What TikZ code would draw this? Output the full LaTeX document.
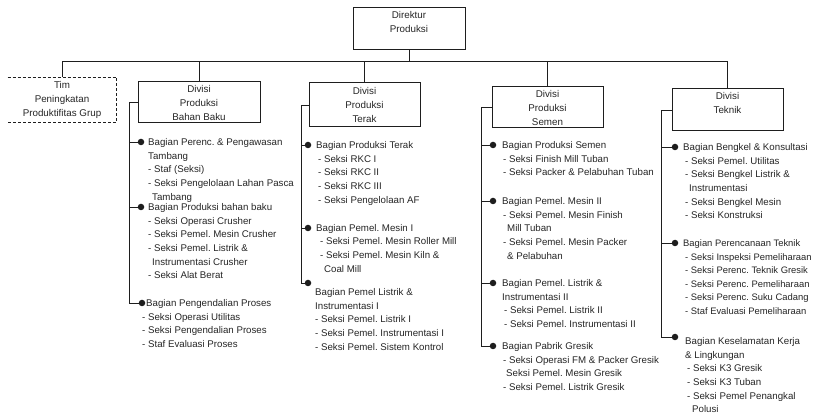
\documentclass[tikz,border=0pt]{standalone}
\usepackage{fontspec}
\setmainfont{Liberation Sans}
\usepackage{tikz}
\usetikzlibrary{positioning, calc}
\definecolor{orgline}{HTML}{1E1E1E}
\definecolor{orgtext}{HTML}{262626}
\frenchspacing

\begin{document}
\begin{tikzpicture}[x=1pt, y=-1pt,
  unitbox/.style={draw=orgline, line width=1pt, align=center, inner sep=0pt,
    font=\fontsize{9.8}{14}\selectfont, text=orgtext},
  dot/.style={circle, fill=orgline, inner sep=0pt, minimum size=6.5pt},
  itemlist/.style={anchor=north west, inner sep=0pt, align=left,
    font=\fontsize{9.7}{13.6}\selectfont, text=orgtext},
  link/.style={draw=orgline, line width=0.9pt}]
\useasboundingbox[fill=white] (0,0) rectangle (815,414);

\node[unitbox, minimum width=112pt, minimum height=42pt] (dir) at (409,29) {Direktur\\Produksi\\\mbox{}};
\node[unitbox, draw=none, minimum width=108pt, minimum height=44pt] (tim) at (62,100) {Tim\\Peningkatan\\Produktifitas Grup};
\draw[orgline, line width=0.9pt, dash pattern=on 3pt off 2pt]
  (tim.north west) -- (tim.north east) -- (tim.south east) -- (tim.south west);
\node[unitbox, minimum width=122pt, minimum height=41pt] (bahan) at (199,102.5) {Divisi\\Produksi\\Bahan Baku};
\node[unitbox, minimum width=111pt, minimum height=44pt] (terak) at (364.5,105) {Divisi\\Produksi\\Terak};
\node[unitbox, minimum width=111pt, minimum height=41pt] (semen) at (547.5,107.5) {Divisi\\Produksi\\Semen};
\node[unitbox, minimum width=111pt, minimum height=42pt] (teknik) at (727.5,110) {Divisi\\Teknik\\\mbox{}};

\coordinate (bus) at (409,61);
\draw[link] (dir.south) -- (bus);
\draw[link] (bus) -| (tim.north);
\draw[link] (bus) -| (bahan.north);
\draw[link] (bus) -| (terak.north);
\draw[link] (bus) -| (semen.north);
\draw[link] (bus) -| (teknik.north);

% Divisi Produksi Bahan Baku
\node[dot] (bb1) at (141,142) {};
\node[dot] (bb2) at (141,207) {};
\node[dot] (bb3) at (142,303) {};
\coordinate (bbspine) at ([xshift=-8pt]bahan.west);
\draw[link] (bahan.west) -- (bbspine) |- (bb3);
\draw[link] (bb1 -| bbspine) -- (bb1);
\draw[link] (bb2 -| bbspine) -- (bb2);
\node[itemlist] (bb1t) at (148,138.5) {Bagian Perenc. \& Pengawasan\\Tambang\\- Staf (Seksi)\\- Seksi Pengelolaan Lahan Pasca\\\hspace*{4pt}Tambang};
\node[itemlist] (bb2t) at (148,203.5) {Bagian Produksi bahan baku\\- Seksi Operasi Crusher\\- Seksi Pemel. Mesin Crusher\\- Seksi Pemel. Listrik \&\\\hspace*{4pt}Instrumentasi Crusher\\- Seksi Alat Berat};
\node[itemlist] (bb3t) at (142,299.5) {\hspace*{4pt}Bagian Pengendalian Proses\\- Seksi Operasi Utilitas\\- Seksi Pengendalian Proses\\- Staf Evaluasi Proses};

% Divisi Produksi Terak
\node[dot] (tb1) at (308,145) {};
\node[dot] (tb2) at (308,228) {};
\node[dot] (tb3) at (308,283) {};
\coordinate (tbspine) at ([xshift=-7pt]terak.west);
\draw[link] (terak.west) -- (tbspine) |- (tb3);
\draw[link] (tb1 -| tbspine) -- (tb1);
\draw[link] (tb2 -| tbspine) -- (tb2);
\node[itemlist] (tb1t) at (316,141.5) {Bagian Produksi Terak\\\hspace*{2pt}- Seksi RKC I\\\hspace*{2pt}- Seksi RKC II\\\hspace*{2pt}- Seksi RKC III\\\hspace*{2pt}- Seksi Pengelolaan AF};
\node[itemlist] (tb2t) at (316,224) {Bagian Pemel. Mesin I\\\hspace*{4pt}- Seksi Pemel. Mesin Roller Mill\\\hspace*{4pt}- Seksi Pemel. Mesin Kiln \&\\\hspace*{8pt}Coal Mill};
\node[itemlist] (tb3t) at (315,288.5) {Bagian Pemel Listrik \&\\Instrumentasi I\\- Seksi Pemel. Listrik I\\- Seksi Pemel. Instrumentasi I\\- Seksi Pemel. Sistem Kontrol};

% Divisi Produksi Semen
\node[dot] (sb1) at (493,145) {};
\node[dot] (sb2) at (493,201) {};
\node[dot] (sb3) at (493,283) {};
\node[dot] (sb4) at (493,346) {};
\coordinate (sbspine) at ([xshift=-10pt]semen.west);
\draw[link] (semen.west) -- (sbspine) |- (sb4);
\draw[link] (sb1 -| sbspine) -- (sb1);
\draw[link] (sb2 -| sbspine) -- (sb2);
\draw[link] (sb3 -| sbspine) -- (sb3);
\node[itemlist] (sb1t) at (502,141.5) {Bagian Produksi Semen\\\hspace*{1pt}- Seksi Finish Mill Tuban\\\hspace*{1pt}- Seksi Packer \& Pelabuhan Tuban};
\node[itemlist] (sb2t) at (502,197.5) {Bagian Pemel. Mesin II\\\hspace*{1pt}- Seksi Pemel. Mesin Finish\\\hspace*{5pt}Mill Tuban\\\hspace*{1pt}- Seksi Pemel. Mesin Packer\\\hspace*{5pt}\& Pelabuhan};
\node[itemlist] (sb3t) at (502,279.5) {Bagian Pemel. Listrik \&\\Instrumentasi II\\\hspace*{2pt}- Seksi Pemel. Listrik II\\\hspace*{2pt}- Seksi Pemel. Instrumentasi II};
\node[itemlist] (sb4t) at (502,342.5) {Bagian Pabrik Gresik\\\hspace*{1pt}- Seksi Operasi FM \& Packer Gresik\\\hspace*{4pt}Seksi Pemel. Mesin Gresik\\\hspace*{1pt}- Seksi Pemel. Listrik Gresik};

% Divisi Teknik
\node[dot] (kb1) at (675,147) {};
\node[dot] (kb2) at (675,243) {};
\node[dot] (kb3) at (675,337) {};
\coordinate (kbspine) at ([xshift=-10pt]teknik.west);
\draw[link] (teknik.west) -- (kbspine) |- (kb3);
\draw[link] (kb1 -| kbspine) -- (kb1);
\draw[link] (kb2 -| kbspine) -- (kb2);
\node[itemlist] (kb1t) at (683,143.5) {Bagian Bengkel \& Konsultasi\\\hspace*{2pt}- Seksi Pemel. Utilitas\\\hspace*{2pt}- Seksi Bengkel Listrik \&\\\hspace*{6pt}Instrumentasi\\\hspace*{2pt}- Seksi Bengkel Mesin\\\hspace*{2pt}- Seksi Konstruksi};
\node[itemlist, font=\fontsize{9.4}{13.6}\selectfont] (kb2t) at (683,239.5) {Bagian Perencanaan Teknik\\\hspace*{2pt}- Seksi Inspeksi Pemeliharaan\\\hspace*{2pt}- Seksi Perenc. Teknik Gresik\\\hspace*{2pt}- Seksi Perenc. Pemeliharaan\\\hspace*{2pt}- Seksi Perenc. Suku Cadang\\\hspace*{2pt}- Staf Evaluasi Pemeliharaan};
\node[itemlist] (kb3t) at (685,337.5) {Bagian Keselamatan Kerja\\\& Lingkungan\\\hspace*{2pt}- Seksi K3 Gresik\\\hspace*{2pt}- Seksi K3 Tuban\\\hspace*{2pt}- Seksi Pemel Penangkal\\\hspace*{7pt}Polusi};
\end{tikzpicture}
\end{document}
